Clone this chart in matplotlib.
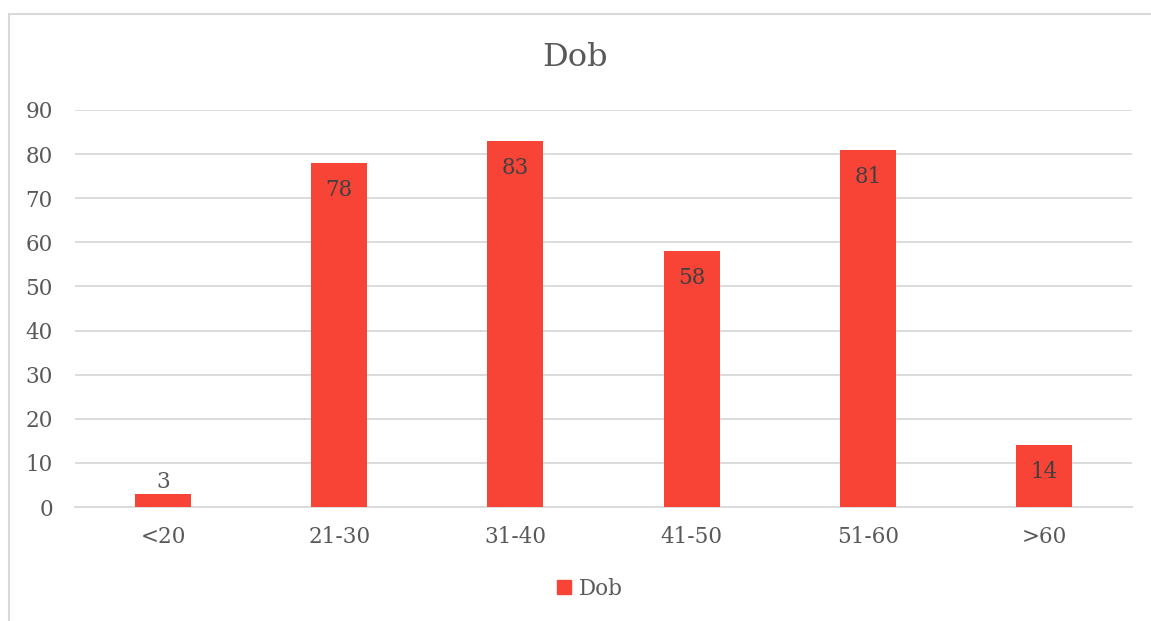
import matplotlib
matplotlib.use("Agg")
import matplotlib.pyplot as plt
from matplotlib.lines import Line2D

categories = ["<20", "21-30", "31-40", "41-50", "51-60", ">60"]
values = [3, 78, 83, 58, 81, 14]
series_name = "Dob"
yticks = [0, 10, 20, 30, 40, 50, 60, 70, 80, 90]

bar_color = "#F84436"
text_color = "#595959"
grid_color = "#D9D9D9"
font = "DejaVu Serif"
fs = 15.5

W, H = 1151, 621
fig = plt.figure(figsize=(W / 100, H / 100), dpi=100)
ax = fig.add_axes([75 / W, 1 - 507 / H, (1132 - 75) / W, (507 - 110) / H])

x = list(range(len(categories)))
bars = ax.bar(x, values, width=0.318, color=bar_color, label=series_name, zorder=3)
ax.set_xlim(-0.5, len(categories) - 0.5)
ax.set_ylim(0, 90)
ax.set_yticks(yticks)
ax.set_xticks(x)
ax.set_xticklabels(categories)
ax.yaxis.grid(True, color=grid_color, linewidth=1.3, zorder=0)
ax.set_axisbelow(True)
for s in ["top", "right", "left"]:
    ax.spines[s].set_visible(False)
ax.spines["bottom"].set_color(grid_color)
ax.spines["bottom"].set_linewidth(1.3)
ax.tick_params(axis="both", length=0, labelsize=fs, labelcolor=text_color)
ax.tick_params(axis="x", pad=14)
ax.tick_params(axis="y", pad=16)
for lbl in ax.get_xticklabels() + ax.get_yticklabels():
    lbl.set_fontfamily(font)

for xi, v in zip(x, values):
    if v < 10:
        ax.annotate(str(v), (xi, v), xytext=(0, 12), textcoords="offset pixels",
                    ha="center", va="center", fontsize=fs, color=text_color, family=font)
    else:
        ax.annotate(str(v), (xi, v), xytext=(0, -27), textcoords="offset pixels",
                    ha="center", va="center", fontsize=fs, color="#404040", family=font)

fig.text(0.5, 1 - 58 / H, "Dob", ha="center", va="center", fontsize=23,
         color=text_color, family=font)

handle = Line2D([0], [0], marker="s", linestyle="none", markersize=10,
                markerfacecolor=bar_color, markeredgecolor=bar_color)
leg = fig.legend([handle], [series_name], loc="center", bbox_to_anchor=(590 / W, 1 - 589 / H),
                 frameon=False, handlelength=0.7, handletextpad=0.35,
                 prop={"family": font, "size": fs})
for t in leg.get_texts():
    t.set_color(text_color)

# outer chart border (left and top)
fig.add_artist(Line2D([9 / W, 9 / W], [0, 1 - 14 / H], transform=fig.transFigure,
                      color=grid_color, linewidth=1.5))
fig.add_artist(Line2D([9 / W, 1], [1 - 14 / H, 1 - 14 / H], transform=fig.transFigure,
                      color=grid_color, linewidth=1.5))

fig.savefig("out.png", dpi=100)
